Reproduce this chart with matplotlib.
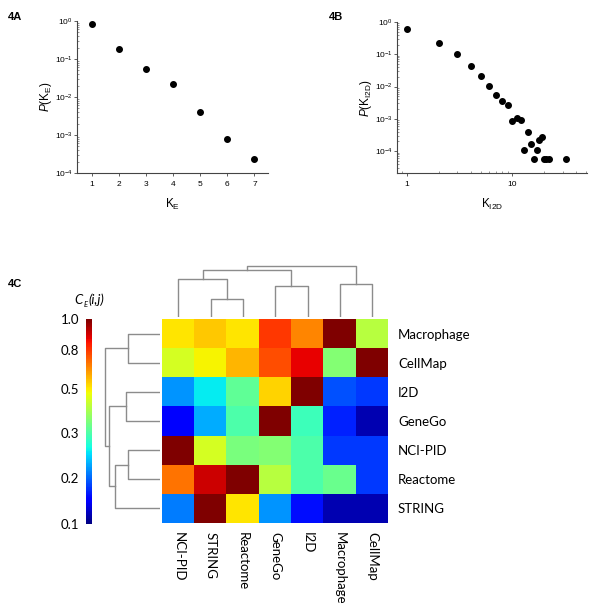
import numpy as np
import matplotlib
matplotlib.use("Agg")
import matplotlib.pyplot as plt
from matplotlib.colors import FuncNorm
import matplotlib.ticker as mticker

plt.rcParams['font.family'] = ['Liberation Sans', 'DejaVu Sans']
plt.rcParams['mathtext.fontset'] = 'custom'
plt.rcParams['mathtext.rm'] = 'Liberation Sans'
plt.rcParams['mathtext.it'] = 'Liberation Sans:italic'

# ---- data ----
# 4A: degree distribution of K_E
kE = [1, 2, 3, 4, 5, 6, 7]
pKE = [0.85, 0.18, 0.056, 0.022, 0.004, 0.00077, 0.00024]

# 4B: degree distribution of K_I2D
kI2D = [1, 2, 3, 4, 5, 6, 7, 8, 9, 10, 11, 12, 13, 14, 15, 16, 17, 18, 19,
        20, 21, 22, 32]
pKI2D = [0.59, 0.22, 0.1, 0.042, 0.022, 0.0105, 0.0055, 0.0036, 0.0027,
         0.00085, 0.0011, 0.00091, 0.000112, 0.0004, 0.000167, 5.6e-5,
         0.000112, 0.00022, 0.00028, 5.6e-5, 5.6e-5, 5.6e-5, 5.6e-5]

# 4C: C_E(i,j) overlap matrix
row_names = ['Macrophage', 'CellMap', 'I2D', 'GeneGo', 'NCI-PID', 'Reactome', 'STRING']
col_names = ['NCI-PID', 'STRING', 'Reactome', 'GeneGo', 'I2D', 'Macrophage', 'CellMap']
CE = np.array([
    [0.51, 0.56, 0.51, 0.80, 0.67, 1.00, 0.42],
    [0.45, 0.49, 0.59, 0.76, 0.88, 0.36, 1.00],
    [0.22, 0.26, 0.32, 0.54, 1.00, 0.19, 0.18],
    [0.15, 0.23, 0.30, 1.00, 0.29, 0.17, 0.12],
    [1.00, 0.45, 0.35, 0.36, 0.30, 0.18, 0.18],
    [0.70, 0.91, 1.00, 0.42, 0.30, 0.33, 0.18],
    [0.21, 1.00, 0.51, 0.22, 0.16, 0.12, 0.12],
])
cbar_ticks = [0.1, 0.2, 0.3, 0.5, 0.8, 1.0]
cbar_pos = [0.0, 0.228, 0.445, 0.66, 0.85, 1.0]   # where the ticks sit on the bar

# dendrograms: (node a, node b, height); leaves 0..6, new nodes numbered from 7
row_merges = [(0, 1, 31.7), (2, 3, 34.3), (4, 5, 32.3), (9, 6, 45.0),
              (8, 10, 50.7), (7, 11, 55.0)]
col_merges = [(1, 2, 18.0), (0, 7, 38.0), (3, 4, 31.3), (5, 6, 33.3),
              (8, 9, 47.3), (11, 10, 51.3)]

W, H = 600, 615
fig = plt.figure(figsize=(W / 100, H / 100), dpi=100)
calibri = ['Lato', 'DejaVu Sans']


def box(l, t, r, b):
    return [l / W, 1 - b / H, (r - l) / W, (b - t) / H]


def style_log_ax(ax):
    for s in ('top', 'right'):
        ax.spines[s].set_visible(False)
    for s in ('left', 'bottom'):
        ax.spines[s].set_color('#444444')
        ax.spines[s].set_linewidth(0.8)
    ax.tick_params(labelsize=6, length=2.5, width=0.6, color='#444444')
    ax.tick_params(axis='y', length=2, pad=1)
    ax.tick_params(which='minor', direction='in', length=1.5, width=0.4, color='#444444')
    ax.yaxis.set_major_locator(mticker.LogLocator(base=10, numticks=10))
    ax.yaxis.set_minor_locator(mticker.LogLocator(base=10, subs=np.arange(2, 10), numticks=10))


# ---- 4A ----
axA = fig.add_axes(box(77, 21, 268, 173))
axA.plot(kE, pKE, 'o', color='black', ms=4)
axA.set_yscale('log')
axA.set_ylim(1e-4, 1)
axA.set_xlim(0.45, 7.5)
axA.set_xticks(kE)
style_log_ax(axA)
axA.set_xlabel(r'K$_{\rm E}$', fontsize=8.5, labelpad=6)
axA.set_ylabel(r'$P$(K$_{\rm E}$)', fontsize=8.5, labelpad=1)
fig.text(8 / W, 1 - 17 / H, '4A', fontsize=8, fontweight='bold', va='center')

# ---- 4B ----
axB = fig.add_axes(box(397, 22, 587, 173))
axB.plot(kI2D, pKI2D, 'o', color='black', ms=4)
axB.set_xscale('log')
axB.set_yscale('log')
axB.set_xlim(0.8, 51)
axB.set_ylim(2.1e-5, 1)
style_log_ax(axB)
axB.xaxis.set_major_formatter(mticker.FuncFormatter(lambda v, p: '%g' % v))
axB.xaxis.set_minor_formatter(mticker.NullFormatter())
axB.set_xlabel(r'K$_{\rm I2D}$', fontsize=8.5, labelpad=6)
axB.set_ylabel(r'$P$(K$_{\rm I2D}$)', fontsize=8.5, labelpad=1)
fig.text(329 / W, 1 - 17 / H, '4B', fontsize=8, fontweight='bold', va='center')

# ---- 4C ----
fig.text(8 / W, 1 - 284 / H, '4C', fontsize=8, fontweight='bold', va='center')

norm = FuncNorm((lambda x: np.interp(x, cbar_ticks, cbar_pos),
                 lambda y: np.interp(y, cbar_pos, cbar_ticks)), vmin=0.1, vmax=1.0)

axH = fig.add_axes(box(162.3, 319, 388.3, 522.7))
im = axH.imshow(CE, cmap='jet', norm=norm, aspect='auto', interpolation='nearest')
axH.set_xticks(range(len(col_names)))
axH.set_xticklabels(col_names, rotation=-90, fontsize=9.5, family=calibri)
axH.set_yticks(range(len(row_names)))
axH.set_yticklabels(row_names, fontsize=9.5, family=calibri)
axH.yaxis.tick_right()
axH.tick_params(length=0, pad=7)
for s in axH.spines.values():
    s.set_visible(False)

# colorbar
axC = fig.add_axes(box(86, 319.3, 92, 524.3))
cb = fig.colorbar(im, cax=axC, ticks=cbar_ticks)
cb.outline.set_visible(False)
axC.yaxis.set_ticks_position('left')
axC.yaxis.set_minor_locator(mticker.NullLocator())
axC.set_yticklabels(['%.1f' % t for t in cbar_ticks], fontsize=9.5, family=calibri)
axC.tick_params(length=0, pad=5)

# colorbar title C_E(i,j), italic
fig.text(74 / W, 1 - 300 / H, 'C', fontsize=9.5, style='italic', family=calibri,
         ha='left', va='center')
fig.text(83.5 / W, 1 - 304 / H, 'E', fontsize=5.5, style='italic', family=calibri,
         ha='left', va='center')
fig.text(88 / W, 1 - 300 / H, '(i,j)', fontsize=9.5, style='italic', family=calibri,
         ha='left', va='center')


def dendro_segments(n, merges):
    pos = {i: float(i) for i in range(n)}
    hgt = {i: 0.0 for i in range(n)}
    segs = []
    for k, (a, b, h) in enumerate(merges):
        segs.append(([pos[a], pos[a], pos[b], pos[b]], [hgt[a], h, h, hgt[b]]))
        pos[n + k] = (pos[a] + pos[b]) / 2
        hgt[n + k] = h
    return segs


dcol = '#8c8c8c'
# row dendrogram (left)
axL = fig.add_axes(box(100, 319, 160, 522.7))
for p, h in dendro_segments(len(row_names), row_merges):
    axL.plot(h, p, color=dcol, lw=1)
axL.set_xlim(60, 0)
axL.set_ylim(len(row_names) - 0.5, -0.5)
axL.axis('off')

# column dendrogram (top)
axT = fig.add_axes(box(162.3, 257.3, 388.3, 317.3))
for p, h in dendro_segments(len(col_names), col_merges):
    axT.plot(p, h, color=dcol, lw=1)
axT.set_xlim(-0.5, len(col_names) - 0.5)
axT.set_ylim(0, 60)
axT.axis('off')

fig.savefig('out.png', dpi=100)
